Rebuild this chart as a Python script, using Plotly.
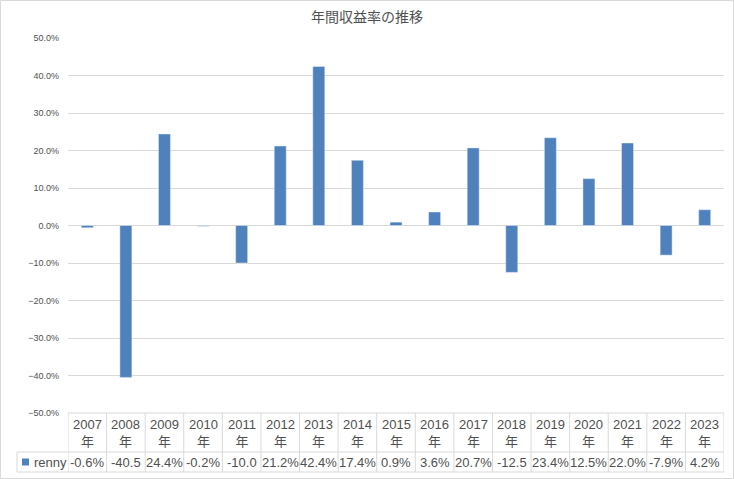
import plotly.graph_objects as go

years = ["2007", "2008", "2009", "2010", "2011", "2012", "2013", "2014", "2015",
         "2016", "2017", "2018", "2019", "2020", "2021", "2022", "2023"]
returns = [-0.6, -40.5, 24.4, -0.2, -10.0, 21.2, 42.4, 17.4, 0.9,
           3.6, 20.7, -12.5, 23.4, 12.5, 22.0, -7.9, 4.2]
series_name = "renny"
title_text = "年間収益率の推移"

W, H = 734, 479
L, R, T, B = 68, 10, 38, 66
PW, PH = W - L - R, H - T - B

def px_x(px):
    return (px - L) / PW

def px_y(py):
    return (H - B - py) / PH

BAR = "#4F81BD"
GRID = "#d9d9d9"
TXT = "#505050"
FONT = "Liberation Sans, Noto Sans CJK JP, sans-serif"

idx = list(range(len(years)))
fig = go.Figure(go.Bar(x=idx, y=returns, marker_color=BAR, name=series_name,
                       width=0.31, hoverinfo="skip"))

shapes = []
annotations = []
n = len(years)
# data table grid
y_top, y_mid, y_bot = 413, 452, 472
shapes.append(dict(type="line", xref="paper", yref="paper", x0=0, x1=1,
                   y0=px_y(y_top), y1=px_y(y_top), line=dict(color=GRID, width=1)))
for yy in (y_mid, y_bot):
    shapes.append(dict(type="line", xref="paper", yref="paper", x0=px_x(17), x1=1,
                       y0=px_y(yy), y1=px_y(yy), line=dict(color=GRID, width=1)))
for i in range(n + 1):
    shapes.append(dict(type="line", xref="x", yref="paper", x0=i - 0.5, x1=i - 0.5,
                       y0=px_y(y_top), y1=px_y(y_bot), line=dict(color=GRID, width=1)))
shapes.append(dict(type="line", xref="paper", yref="paper", x0=px_x(17), x1=px_x(17),
                   y0=px_y(y_mid), y1=px_y(y_bot), line=dict(color=GRID, width=1)))
# legend key square
shapes.append(dict(type="rect", xref="paper", yref="paper", x0=px_x(22), x1=px_x(29),
                   y0=px_y(465.5), y1=px_y(458.5), fillcolor=BAR, line=dict(width=0)))
# outer chart border
shapes.append(dict(type="rect", xref="paper", yref="paper", x0=px_x(0.5), x1=px_x(733.5),
                   y0=px_y(478.5), y1=px_y(0.5), line=dict(color=GRID, width=1)))

for i, (yr, v) in enumerate(zip(years, returns)):
    annotations.append(dict(xref="x", yref="paper", x=i, y=px_y(433), text=f"{yr}<br>年",
                            showarrow=False, font=dict(size=13, color=TXT, family=FONT),
                            xanchor="center", yanchor="middle"))
    s = f"{v:.1f}%"
    if len(s) > 5:
        s = s[:5]
    annotations.append(dict(xref="x", yref="paper", x=i, y=px_y(462.5), text=s,
                            showarrow=False, font=dict(size=13, color=TXT, family=FONT),
                            xanchor="center", yanchor="middle"))
annotations.append(dict(xref="paper", yref="paper", x=px_x(32), y=px_y(462.5), text=series_name,
                        showarrow=False, font=dict(size=13, color=TXT, family=FONT),
                        xanchor="left", yanchor="middle"))

fig.update_layout(
    width=W, height=H,
    margin=dict(l=L, r=R, t=T, b=B, autoexpand=False),
    paper_bgcolor="white", plot_bgcolor="white",
    showlegend=False,
    title=dict(text=title_text, x=0.5, xanchor="center", y=1 - 17 / H, yanchor="middle",
               font=dict(size=14, color=TXT, family="Noto Sans CJK JP")),
    xaxis=dict(range=[-0.5, n - 0.5], showticklabels=False, showgrid=False,
               zeroline=False, showline=False, fixedrange=True),
    yaxis=dict(range=[-50, 50], dtick=10, tick0=0, tickformat=".1f", ticksuffix="%",
               showgrid=True, gridcolor=GRID, gridwidth=1,
               zeroline=True, zerolinecolor=GRID, zerolinewidth=1,
               showline=False, ticklabelstandoff=8, fixedrange=True,
               tickfont=dict(size=9, color=TXT, family=FONT)),
    shapes=shapes, annotations=annotations,
)

fig.write_html("out.html", config={"displayModeBar": False, "staticPlot": True},
               post_script="document.body.style.margin='0';document.body.style.overflow='hidden';")
